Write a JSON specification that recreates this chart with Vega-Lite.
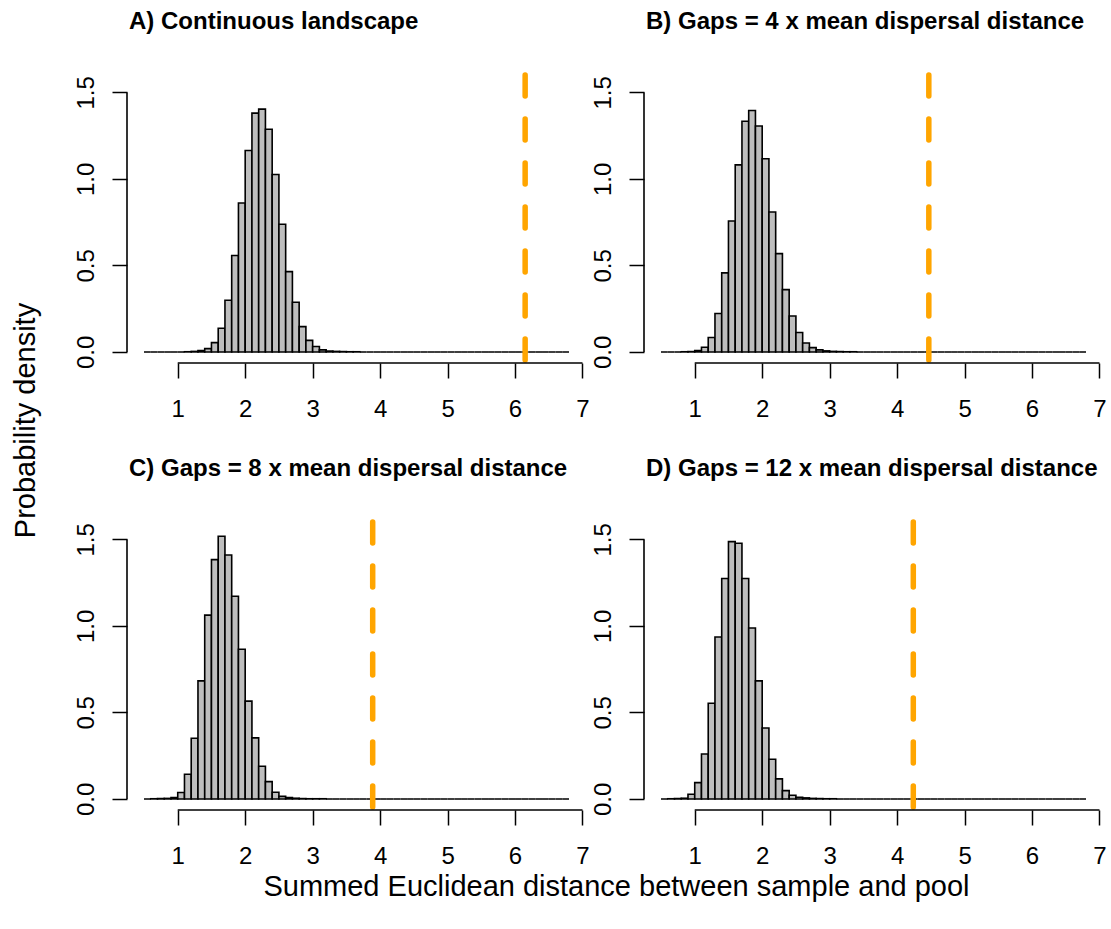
{
  "$schema": "https://vega.github.io/schema/vega-lite/v6.json",
  "autosize": {"type": "none"},
  "padding": {"left": 127, "top": 64, "right": 984, "bottom": 865},
  "background": "white",
  "config": {
    "view": {"stroke": null},
    "font": "Liberation Sans",
    "title": {"anchor": "start", "frame": "group", "fontSize": 24, "font": "Liberation Sans", "fontWeight": "bold", "color": "black", "baseline": "alphabetic", "offset": 30, "dx": 2},
    "axis": {"domain": false, "grid": false, "ticks": true, "tickSize": 15, "tickWidth": 1.5, "tickColor": "black", "labelFont": "Liberation Sans", "labelFontSize": 24, "labelColor": "black", "labelFlush": false, "labelOverlap": false, "titleFont": "Liberation Sans", "titleFontSize": 29, "titleFontWeight": "normal", "titleColor": "black"},
    "axisX": {"labelBaseline": "alphabetic", "labelPadding": 38, "labelAngle": 0},
    "axisY": {"labelAngle": 270, "labelAlign": "center", "labelBaseline": "alphabetic", "labelPadding": 19}
  },
  "datasets": {
    "bins": [
      {"x0": 0.5, "x1": 0.6, "A": 0, "B": 0, "C": 0, "D": 0},
      {"x0": 0.6, "x1": 0.7, "A": 0, "B": 0, "C": 0.001, "D": 0.001},
      {"x0": 0.7, "x1": 0.8, "A": 0, "B": 0, "C": 0.002, "D": 0.002},
      {"x0": 0.8, "x1": 0.9, "A": 0, "B": 0.001, "C": 0.003, "D": 0.004},
      {"x0": 0.9, "x1": 1.0, "A": 0, "B": 0.002, "C": 0.008, "D": 0.027},
      {"x0": 1.0, "x1": 1.1, "A": 0, "B": 0.008, "C": 0.037, "D": 0.094},
      {"x0": 1.1, "x1": 1.2, "A": 0.001, "B": 0.027, "C": 0.143, "D": 0.26},
      {"x0": 1.2, "x1": 1.3, "A": 0.003, "B": 0.083, "C": 0.351, "D": 0.553},
      {"x0": 1.3, "x1": 1.4, "A": 0.008, "B": 0.222, "C": 0.682, "D": 0.936},
      {"x0": 1.4, "x1": 1.5, "A": 0.019, "B": 0.457, "C": 1.062, "D": 1.274},
      {"x0": 1.5, "x1": 1.6, "A": 0.054, "B": 0.757, "C": 1.383, "D": 1.487},
      {"x0": 1.6, "x1": 1.7, "A": 0.137, "B": 1.081, "C": 1.518, "D": 1.478},
      {"x0": 1.7, "x1": 1.8, "A": 0.299, "B": 1.333, "C": 1.41, "D": 1.274},
      {"x0": 1.8, "x1": 1.9, "A": 0.557, "B": 1.395, "C": 1.171, "D": 0.988},
      {"x0": 1.9, "x1": 2.0, "A": 0.861, "B": 1.306, "C": 0.865, "D": 0.682},
      {"x0": 2.0, "x1": 2.1, "A": 1.164, "B": 1.116, "C": 0.565, "D": 0.41},
      {"x0": 2.1, "x1": 2.2, "A": 1.38, "B": 0.809, "C": 0.353, "D": 0.229},
      {"x0": 2.2, "x1": 2.3, "A": 1.403, "B": 0.568, "C": 0.189, "D": 0.116},
      {"x0": 2.3, "x1": 2.4, "A": 1.287, "B": 0.36, "C": 0.1, "D": 0.048},
      {"x0": 2.4, "x1": 2.5, "A": 1.025, "B": 0.208, "C": 0.039, "D": 0.021},
      {"x0": 2.5, "x1": 2.6, "A": 0.738, "B": 0.112, "C": 0.015, "D": 0.01},
      {"x0": 2.6, "x1": 2.7, "A": 0.464, "B": 0.052, "C": 0.008, "D": 0.006},
      {"x0": 2.7, "x1": 2.8, "A": 0.287, "B": 0.025, "C": 0.004, "D": 0.003},
      {"x0": 2.8, "x1": 2.9, "A": 0.146, "B": 0.012, "C": 0.002, "D": 0.002},
      {"x0": 2.9, "x1": 3.0, "A": 0.067, "B": 0.006, "C": 0.001, "D": 0.001},
      {"x0": 3.0, "x1": 3.1, "A": 0.031, "B": 0.003, "C": 0.001, "D": 0.001},
      {"x0": 3.1, "x1": 3.2, "A": 0.012, "B": 0.002, "C": 0.001, "D": 0},
      {"x0": 3.2, "x1": 3.3, "A": 0.005, "B": 0.001, "C": 0, "D": 0},
      {"x0": 3.3, "x1": 3.4, "A": 0.003, "B": 0.001, "C": 0, "D": 0},
      {"x0": 3.4, "x1": 3.5, "A": 0.002, "B": 0, "C": 0, "D": 0},
      {"x0": 3.5, "x1": 3.6, "A": 0.001, "B": 0, "C": 0, "D": 0},
      {"x0": 3.6, "x1": 3.7, "A": 0.001, "B": 0, "C": 0, "D": 0},
      {"x0": 3.7, "x1": 3.8, "A": 0, "B": 0, "C": 0, "D": 0},
      {"x0": 3.8, "x1": 3.9, "A": 0, "B": 0, "C": 0, "D": 0},
      {"x0": 3.9, "x1": 4.0, "A": 0, "B": 0, "C": 0, "D": 0},
      {"x0": 4.0, "x1": 4.1, "A": 0, "B": 0, "C": 0, "D": 0},
      {"x0": 4.1, "x1": 4.2, "A": 0, "B": 0, "C": 0, "D": 0},
      {"x0": 4.2, "x1": 4.3, "A": 0, "B": 0, "C": 0, "D": 0},
      {"x0": 4.3, "x1": 4.4, "A": 0, "B": 0, "C": 0, "D": 0},
      {"x0": 4.4, "x1": 4.5, "A": 0, "B": 0, "C": 0, "D": 0},
      {"x0": 4.5, "x1": 4.6, "A": 0, "B": 0, "C": 0, "D": 0},
      {"x0": 4.6, "x1": 4.7, "A": 0, "B": 0, "C": 0, "D": 0},
      {"x0": 4.7, "x1": 4.8, "A": 0, "B": 0, "C": 0, "D": 0},
      {"x0": 4.8, "x1": 4.9, "A": 0, "B": 0, "C": 0, "D": 0},
      {"x0": 4.9, "x1": 5.0, "A": 0, "B": 0, "C": 0, "D": 0},
      {"x0": 5.0, "x1": 5.1, "A": 0, "B": 0, "C": 0, "D": 0},
      {"x0": 5.1, "x1": 5.2, "A": 0, "B": 0, "C": 0, "D": 0},
      {"x0": 5.2, "x1": 5.3, "A": 0, "B": 0, "C": 0, "D": 0},
      {"x0": 5.3, "x1": 5.4, "A": 0, "B": 0, "C": 0, "D": 0},
      {"x0": 5.4, "x1": 5.5, "A": 0, "B": 0, "C": 0, "D": 0},
      {"x0": 5.5, "x1": 5.6, "A": 0, "B": 0, "C": 0, "D": 0},
      {"x0": 5.6, "x1": 5.7, "A": 0, "B": 0, "C": 0, "D": 0},
      {"x0": 5.7, "x1": 5.8, "A": 0, "B": 0, "C": 0, "D": 0},
      {"x0": 5.8, "x1": 5.9, "A": 0, "B": 0, "C": 0, "D": 0},
      {"x0": 5.9, "x1": 6.0, "A": 0, "B": 0, "C": 0, "D": 0},
      {"x0": 6.0, "x1": 6.1, "A": 0, "B": 0, "C": 0, "D": 0},
      {"x0": 6.1, "x1": 6.2, "A": 0, "B": 0, "C": 0, "D": 0},
      {"x0": 6.2, "x1": 6.3, "A": 0, "B": 0, "C": 0, "D": 0},
      {"x0": 6.3, "x1": 6.4, "A": 0, "B": 0, "C": 0, "D": 0},
      {"x0": 6.4, "x1": 6.5, "A": 0, "B": 0, "C": 0, "D": 0},
      {"x0": 6.5, "x1": 6.6, "A": 0, "B": 0, "C": 0, "D": 0},
      {"x0": 6.6, "x1": 6.7, "A": 0, "B": 0, "C": 0, "D": 0},
      {"x0": 6.7, "x1": 6.8, "A": 0, "B": 0, "C": 0, "D": 0}
    ],
    "obs": [
      {"panel": "A", "observed": 6.15},
      {"panel": "B", "observed": 4.47},
      {"panel": "C", "observed": 3.89},
      {"panel": "D", "observed": 4.24}
    ]
  },
  "columns": 2,
  "spacing": {"row": 148, "column": 58},
  "bounds": "flush",
  "concat": [
    {
      "width": 459, "height": 299,
      "title": "A) Continuous landscape",
      "layer": [
        {
          "data": {"name": "bins"},
          "mark": {"type": "rect", "fill": "#bebebe", "stroke": "black", "strokeWidth": 1.6},
          "encoding": {
            "x": {"field": "x0", "type": "quantitative", "scale": {"domain": [0.248, 7.052], "nice": false, "zero": false}, "axis": {"title": null, "values": [1, 2, 3, 4, 5, 6, 7], "format": "d"}},
            "x2": {"field": "x1"},
            "y": {"field": "A", "type": "quantitative", "scale": {"domain": [-0.064, 1.664], "nice": false, "zero": false}, "axis": {"values": [0, 0.5, 1, 1.5], "format": ".1f", "title": "Probability density", "titleAngle": 270, "titleX": -93, "titleY": 356, "titleAlign": "center", "titleBaseline": "alphabetic"}},
            "y2": {"datum": 0}
          }
        },
        {
          "data": {"name": "obs"},
          "transform": [{"filter": "datum.panel == 'A'"}],
          "layer": [
            {"mark": {"type": "rule", "color": "#FFA500", "strokeWidth": 5.5, "strokeDash": [21, 23], "strokeCap": "round"},
             "encoding": {"x": {"field": "observed", "type": "quantitative"}, "y": {"datum": 1.6}, "y2": {"datum": -0.064}}},
            {"mark": {"type": "rule", "color": "black", "strokeWidth": 1.6},
             "encoding": {"x": {"datum": 1}, "x2": {"datum": 7}, "y": {"datum": -0.064}}},
            {"mark": {"type": "rule", "color": "black", "strokeWidth": 1.6},
             "encoding": {"x": {"datum": 0.248}, "y": {"datum": 0}, "y2": {"datum": 1.5}}}
          ]
        }
      ]
    },
    {
      "width": 459, "height": 299,
      "title": "B) Gaps = 4 x mean dispersal distance",
      "layer": [
        {
          "data": {"name": "bins"},
          "mark": {"type": "rect", "fill": "#bebebe", "stroke": "black", "strokeWidth": 1.6},
          "encoding": {
            "x": {"field": "x0", "type": "quantitative", "scale": {"domain": [0.248, 7.052], "nice": false, "zero": false}, "axis": {"title": null, "values": [1, 2, 3, 4, 5, 6, 7], "format": "d"}},
            "x2": {"field": "x1"},
            "y": {"field": "B", "type": "quantitative", "scale": {"domain": [-0.064, 1.664], "nice": false, "zero": false}, "axis": {"title": null, "values": [0, 0.5, 1, 1.5], "format": ".1f"}},
            "y2": {"datum": 0}
          }
        },
        {
          "data": {"name": "obs"},
          "transform": [{"filter": "datum.panel == 'B'"}],
          "layer": [
            {"mark": {"type": "rule", "color": "#FFA500", "strokeWidth": 5.5, "strokeDash": [21, 23], "strokeCap": "round"},
             "encoding": {"x": {"field": "observed", "type": "quantitative"}, "y": {"datum": 1.6}, "y2": {"datum": -0.064}}},
            {"mark": {"type": "rule", "color": "black", "strokeWidth": 1.6},
             "encoding": {"x": {"datum": 1}, "x2": {"datum": 7}, "y": {"datum": -0.064}}},
            {"mark": {"type": "rule", "color": "black", "strokeWidth": 1.6},
             "encoding": {"x": {"datum": 0.248}, "y": {"datum": 0}, "y2": {"datum": 1.5}}}
          ]
        }
      ]
    },
    {
      "width": 459, "height": 299,
      "title": "C) Gaps = 8 x mean dispersal distance",
      "layer": [
        {
          "data": {"name": "bins"},
          "mark": {"type": "rect", "fill": "#bebebe", "stroke": "black", "strokeWidth": 1.6},
          "encoding": {
            "x": {"field": "x0", "type": "quantitative", "scale": {"domain": [0.248, 7.052], "nice": false, "zero": false}, "axis": {"values": [1, 2, 3, 4, 5, 6, 7], "format": "d", "title": "Summed Euclidean distance between sample and pool", "titleX": 489, "titleY": 85, "titleAlign": "center", "titleBaseline": "alphabetic", "titleAngle": 0}},
            "x2": {"field": "x1"},
            "y": {"field": "C", "type": "quantitative", "scale": {"domain": [-0.064, 1.664], "nice": false, "zero": false}, "axis": {"title": null, "values": [0, 0.5, 1, 1.5], "format": ".1f"}},
            "y2": {"datum": 0}
          }
        },
        {
          "data": {"name": "obs"},
          "transform": [{"filter": "datum.panel == 'C'"}],
          "layer": [
            {"mark": {"type": "rule", "color": "#FFA500", "strokeWidth": 5.5, "strokeDash": [21, 23], "strokeCap": "round"},
             "encoding": {"x": {"field": "observed", "type": "quantitative"}, "y": {"datum": 1.6}, "y2": {"datum": -0.064}}},
            {"mark": {"type": "rule", "color": "black", "strokeWidth": 1.6},
             "encoding": {"x": {"datum": 1}, "x2": {"datum": 7}, "y": {"datum": -0.064}}},
            {"mark": {"type": "rule", "color": "black", "strokeWidth": 1.6},
             "encoding": {"x": {"datum": 0.248}, "y": {"datum": 0}, "y2": {"datum": 1.5}}}
          ]
        }
      ]
    },
    {
      "width": 459, "height": 299,
      "title": "D) Gaps = 12 x mean dispersal distance",
      "layer": [
        {
          "data": {"name": "bins"},
          "mark": {"type": "rect", "fill": "#bebebe", "stroke": "black", "strokeWidth": 1.6},
          "encoding": {
            "x": {"field": "x0", "type": "quantitative", "scale": {"domain": [0.248, 7.052], "nice": false, "zero": false}, "axis": {"title": null, "values": [1, 2, 3, 4, 5, 6, 7], "format": "d"}},
            "x2": {"field": "x1"},
            "y": {"field": "D", "type": "quantitative", "scale": {"domain": [-0.064, 1.664], "nice": false, "zero": false}, "axis": {"title": null, "values": [0, 0.5, 1, 1.5], "format": ".1f"}},
            "y2": {"datum": 0}
          }
        },
        {
          "data": {"name": "obs"},
          "transform": [{"filter": "datum.panel == 'D'"}],
          "layer": [
            {"mark": {"type": "rule", "color": "#FFA500", "strokeWidth": 5.5, "strokeDash": [21, 23], "strokeCap": "round"},
             "encoding": {"x": {"field": "observed", "type": "quantitative"}, "y": {"datum": 1.6}, "y2": {"datum": -0.064}}},
            {"mark": {"type": "rule", "color": "black", "strokeWidth": 1.6},
             "encoding": {"x": {"datum": 1}, "x2": {"datum": 7}, "y": {"datum": -0.064}}},
            {"mark": {"type": "rule", "color": "black", "strokeWidth": 1.6},
             "encoding": {"x": {"datum": 0.248}, "y": {"datum": 0}, "y2": {"datum": 1.5}}}
          ]
        }
      ]
    }
  ]
}
